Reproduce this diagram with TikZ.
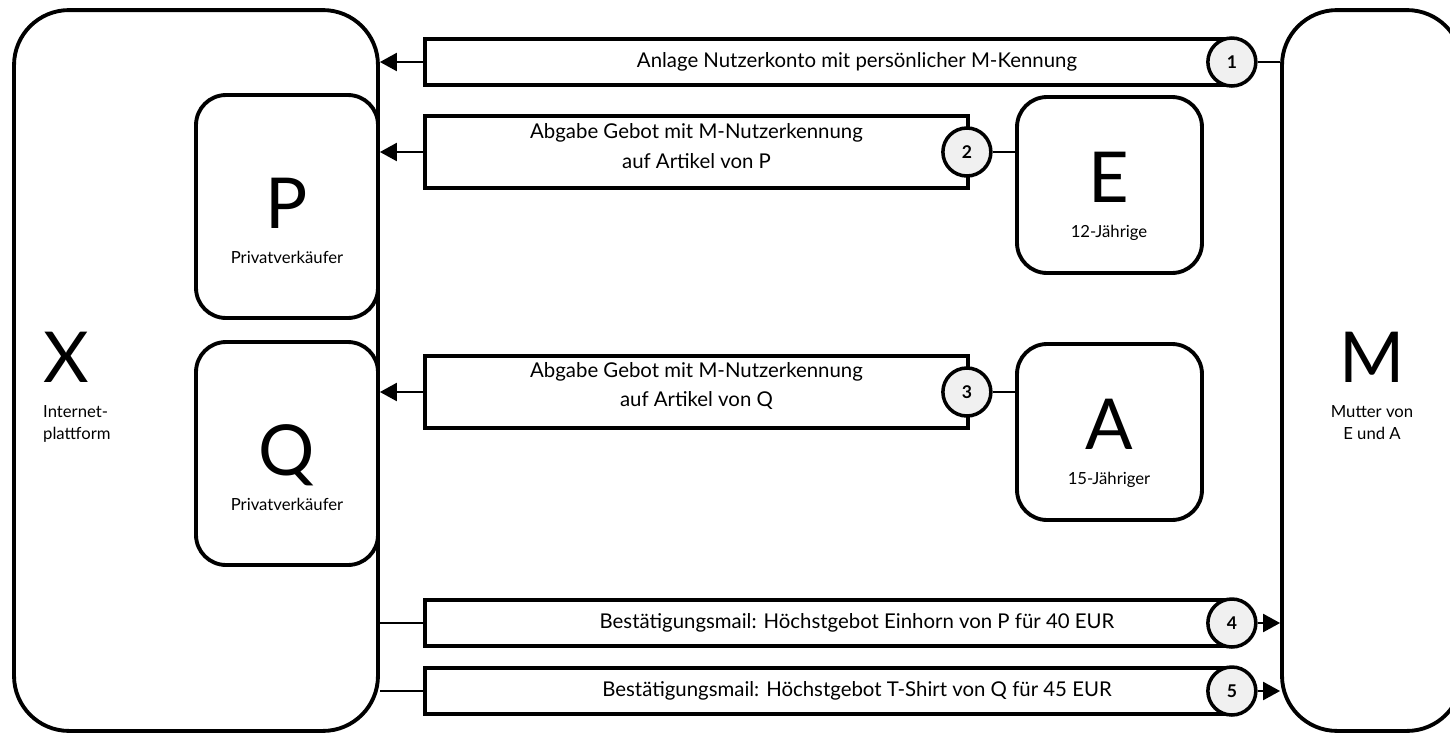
\documentclass[tikz,border=0pt]{standalone}
\usepackage{fontspec}
\setmainfont{Lato}
\usetikzlibrary{
  arrows.meta, % for the Triangle arrow tip
  positioning, % for the labels below the big letters
}
\tikzset{
  party/.style={ % style for the big outer boxes
    rectangle,draw,line width=2.2pt, % drawn as a thick rectangle
    rounded corners=1.1cm, % large round corners
    inner sep=0pt,
  },
  person/.style={ % style for the persons inside
    party, % inherit the party style
    rounded corners=0.6cm, % smaller corners
  },
  msg/.style={ % style for the message boxes
    rectangle,draw,line width=2.2pt,
    fill=white,
    inner sep=0pt,
  },
  msgtext/.style={ % text laid over a message box
    inner sep=0pt,
    align=center,
    font=\fontsize{11.6}{17}\selectfont,
  },
  nr/.style={ % numbered circle
    circle,draw,line width=2pt,
    fill=gray!12,
    minimum size=0.96cm,
    inner sep=0pt,
    font=\bfseries\fontsize{10}{10}\selectfont,
  },
  big/.style={ % big letter of a party
    inner sep=0pt,
    anchor=base,
    font=\fontsize{40}{40}\selectfont,
  },
  sub/.style={ % small caption below a big letter
    inner sep=0pt,
    align=center,
    font=\fontsize{9.5}{12.5}\selectfont,
  },
  conn/.style={ % arrows into a box
    -{Triangle[length=0.34cm,width=0.36cm]},
    line width=1.3pt,
  },
  link/.style={ % plain connections
    line width=1.3pt,
  },
}

\begin{document}
\begin{tikzpicture}[x=0.02cm, y=-0.02cm]
	\useasboundingbox (0,0) rectangle (1450,741);
	
	% parties
	\node[party, minimum width=7.28cm, minimum height=14.42cm] (X) at (196,370.5) {};
	\node[party, minimum width=3.6cm, minimum height=14.42cm] (M) at (1372,370.5) {};
	\node[person, minimum width=3.64cm, minimum height=4.46cm] (P) at (287,206.5) {};
	\node[person, minimum width=3.64cm, minimum height=4.46cm] (Q) at (287,453.5) {};
	\node[person, minimum width=3.7cm, minimum height=3.52cm] (E) at (1109.5,185) {};
	\node[person, minimum width=3.7cm, minimum height=3.52cm] (A) at (1109.5,432) {};
	
	\node[big] (xl) at (66,382) {X};
	\node[sub, align=left, below=0.45cm of xl.south west, anchor=north west] (xs) {Internet-\\plattform};
	\node[big] (ml) at (1372,382) {M};
	\node[sub, below=0.45cm of ml] (ms) {Mutter von\\E und A};
	\node[big] (pl) at (287,228) {P};
	\node[sub, below=0.45cm of pl] (ps) {Privatverkäufer};
	\node[big] (ql) at (287,475) {Q};
	\node[sub, below=0.45cm of ql.base] (qs) {Privatverkäufer};
	\node[big] (el) at (1109,202) {E};
	\node[sub, below=0.45cm of el] (es) {12-Jährige};
	\node[big] (al) at (1109,449) {A};
	\node[sub, below=0.45cm of al] (as) {15-Jähriger};
	
	% messages
	\node[msg, minimum width=16.1cm, minimum height=0.92cm] (m1) at (827.5,62) {};
	\node[msgtext] (t1) at (857,62) {Anlage Nutzerkonto mit persönlicher M-Kennung};
	\node[msg, minimum width=10.86cm, minimum height=1.44cm] (m2) at (696.5,152) {};
	\node[msgtext] (t2) at (696.5,146) {Abgabe Gebot mit M-Nutzerkennung\\auf Artikel von P};
	\node[msg, minimum width=10.86cm, minimum height=1.44cm] (m3) at (696.5,392) {};
	\node[msgtext] (t3) at (696.5,386) {Abgabe Gebot mit M-Nutzerkennung\\auf Artikel von Q};
	\node[msg, minimum width=16.1cm, minimum height=0.92cm] (m4) at (827.5,623) {};
	\node[msgtext] (t4) at (857,623) {Bestätigungsmail: Höchstgebot Einhorn von P für 40 EUR};
	\node[msg, minimum width=16.1cm, minimum height=0.92cm] (m5) at (827.5,691) {};
	\node[msgtext] (t5) at (857,691) {Bestätigungsmail: Höchstgebot T-Shirt von Q für 45 EUR};
	
	\node[nr] (n1) at (m1.east) {1};
	\node[nr] (n2) at ([xshift=-0.06cm]m2.east) {2};
	\node[nr] (n3) at ([xshift=-0.06cm]m3.east) {3};
	\node[nr] (n4) at (m4.east) {4};
	\node[nr] (n5) at (m5.east) {5};
	
	\draw[conn] (m1.west) -- (m1.west -| X.east);
	\draw[conn] (m2.west) -- (m2.west -| X.east);
	\draw[conn] (m3.west) -- (m3.west -| X.east);
	\draw[link] (m4.west -| X.east) -- (m4.west);
	\draw[link] (m5.west -| X.east) -- (m5.west);
	
	\draw[link] (n1) -- (n1 -| M.west);
	\draw[link] (n2) -- (n2 -| E.west);
	\draw[link] (n3) -- (n3 -| A.west);
	\draw[conn] (n4) -- (n4 -| M.west);
	\draw[conn] (n5) -- (n5 -| M.west);
\end{tikzpicture}
\end{document}
